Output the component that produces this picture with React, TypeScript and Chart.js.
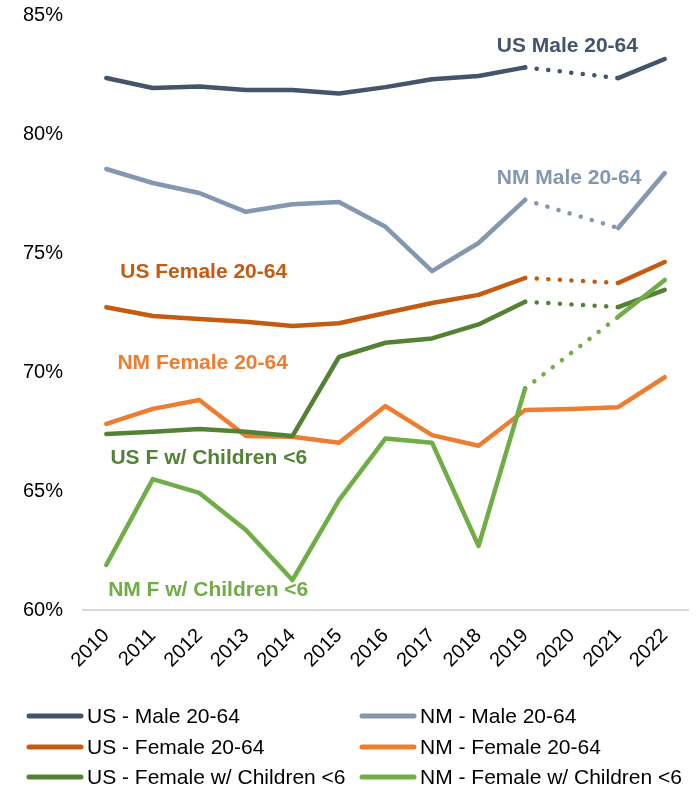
import React, { useEffect, useRef } from 'react';
import { Chart, registerables } from 'chart.js';

Chart.register(...registerables);

const FONT = '"Liberation Sans", Arial, Helvetica, sans-serif';

const years = ['2010', '2011', '2012', '2013', '2014', '2015', '2016', '2017', '2018', '2019', '2020', '2021', '2022'];

const usMale = [82.35, 81.93, 82.0, 81.85, 81.85, 81.7, 81.97, 82.3, 82.44, 82.8, null, 82.35, 83.15];
const nmMale = [78.53, 77.94, 77.52, 76.73, 77.05, 77.14, 76.1, 74.24, 75.42, 77.23, null, 76.05, 78.36];
const usFemale = [72.72, 72.35, 72.23, 72.11, 71.93, 72.05, 72.48, 72.9, 73.24, 73.95, null, 73.74, 74.62];
const nmFemale = [67.82, 68.45, 68.82, 67.31, 67.28, 67.03, 68.57, 67.35, 66.9, 68.4, 68.45, 68.52, 69.78];
const usKids = [67.4, 67.49, 67.6, 67.49, 67.31, 70.63, 71.23, 71.41, 72.0, 72.95, null, 72.73, 73.45];
const nmKids = [61.89, 65.5, 64.92, 63.36, 61.26, 64.62, 67.21, 67.03, 62.69, 69.31, null, 72.32, 73.87];

const seriesLabels = [
  'US - Male 20-64',
  'NM - Male 20-64',
  'US - Female 20-64',
  'NM - Female 20-64',
  'US - Female w/ Children <6',
  'NM - Female w/ Children <6',
];
const seriesColors = ['#44546A', '#8497B0', '#C55A11', '#ED7D31', '#548235', '#70AD47'];
const seriesValues = [usMale, nmMale, usFemale, nmFemale, usKids, nmKids];

const yTicks = [60, 65, 70, 75, 80, 85];

// in-chart series callouts (anchored in data space: category index of left edge, value of centre)
const calloutTexts = ['US Male 20-64', 'NM Male 20-64', 'US Female 20-64', 'NM Female 20-64', 'US F w/ Children <6', 'NM F w/ Children <6'];
const calloutIndex = [8.39, 8.39, 0.3, 0.24, 0.09, 0.04];
const calloutValue = [83.7, 78.15, 74.2, 70.38, 66.39, 60.84];

const calloutPlugin = {
  id: 'callouts',
  afterDatasetsDraw(chart: any) {
    const { ctx } = chart;
    const xs = chart.scales.x;
    const ys = chart.scales.y;
    const p0 = xs.getPixelForValue(0);
    const p1 = xs.getPixelForValue(1);
    ctx.save();
    ctx.font = `bold 21px ${FONT}`;
    ctx.textAlign = 'left';
    ctx.textBaseline = 'middle';
    calloutTexts.forEach((t, i) => {
      ctx.fillStyle = seriesColors[i];
      ctx.fillText(t, p0 + calloutIndex[i] * (p1 - p0), ys.getPixelForValue(calloutValue[i]));
    });
    ctx.restore();
  },
};

const legendPlugin = {
  id: 'gridLegend',
  afterDraw(chart: any) {
    const { ctx } = chart;
    const colX = [27, 360];
    const rowY = [716, 747, 777];
    const markLen = 56;
    ctx.save();
    ctx.font = `21px ${FONT}`;
    ctx.textAlign = 'left';
    ctx.textBaseline = 'middle';
    seriesLabels.forEach((label, i) => {
      const x = colX[i % 2];
      const y = rowY[Math.floor(i / 2)];
      ctx.strokeStyle = seriesColors[i];
      ctx.lineWidth = 5;
      ctx.lineCap = 'round';
      ctx.beginPath();
      ctx.moveTo(x + 2, y);
      ctx.lineTo(x + markLen - 2, y);
      ctx.stroke();
      ctx.fillStyle = '#000000';
      ctx.fillText(label, x + markLen + 4, y + 1);
    });
    ctx.restore();
  },
};

export default function App() {
  const canvasRef = useRef<HTMLCanvasElement | null>(null);

  useEffect(() => {
    if (!canvasRef.current) return;
    const gapDash = (ctx: any) => (ctx.p0.skip || ctx.p1.skip ? [0.1, 11.5] : undefined);
    const chart = new Chart(canvasRef.current, {
      type: 'line',
      data: {
        labels: years,
        datasets: seriesValues.map((vals, i) => ({
          label: seriesLabels[i],
          data: vals,
          borderColor: seriesColors[i],
          backgroundColor: seriesColors[i],
          borderWidth: 4.5,
          borderCapStyle: 'round',
          borderJoinStyle: 'round',
          pointRadius: 0,
          pointHoverRadius: 0,
          tension: 0,
          spanGaps: true,
          fill: false,
          order: seriesValues.length - i,
          segment: { borderDash: gapDash },
        })),
      },
      options: {
        responsive: false,
        animation: false,
        layout: { padding: { top: 15, left: 0, right: 11, bottom: 0 } },
        plugins: {
          legend: { display: false },
          tooltip: { enabled: false },
        },
        scales: {
          x: {
            offset: true,
            grid: { display: false, drawTicks: false },
            border: { display: true, color: '#D9D9D9', width: 2 },
            ticks: {
              minRotation: 45,
              maxRotation: 45,
              padding: 14,
              autoSkip: false,
              color: '#000000',
              font: { family: FONT, size: 20 },
            },
            afterFit: (s: any) => {
              s.height = 179;
            },
          },
          y: {
            min: 60,
            max: 85,
            grid: { display: false, drawTicks: false },
            border: { display: false },
            afterBuildTicks: (s: any) => {
              s.ticks = yTicks.map((v) => ({ value: v }));
            },
            ticks: {
              padding: 20,
              color: '#000000',
              font: { family: FONT, size: 20 },
              callback: (v: any) => `${v}%`,
            },
            afterFit: (s: any) => {
              s.width = 83;
              s.paddingTop = 0;
              s.paddingBottom = 0;
            },
          },
        },
      },
      plugins: [calloutPlugin, legendPlugin],
    });
    return () => chart.destroy();
  }, []);

  return (
    <div style={{ position: 'absolute', left: 0, top: 0, width: 699, height: 789, background: '#ffffff' }}>
      <canvas ref={canvasRef} width={699} height={789} />
    </div>
  );
}
